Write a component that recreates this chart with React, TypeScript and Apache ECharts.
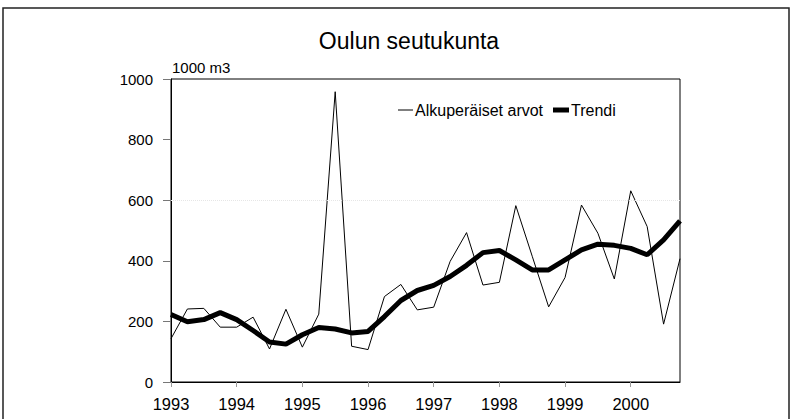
import React, { useEffect, useRef } from "react";
import * as echarts from "echarts";

const years = [1993, 1994, 1995, 1996, 1997, 1998, 1999, 2000];
const quarterNames = ["I", "II", "III", "IV"];
const periods: string[] = years.flatMap((y) => quarterNames.map((q) => `${y} ${q}`));

const originalValues = [
  143, 241, 243, 181, 181, 214, 109, 240,
  115, 224, 958, 118, 107, 282, 322, 238,
  247, 398, 493, 320, 329, 582, 415, 248,
  345, 584, 491, 340, 631, 513, 191, 407,
];

const trendValues = [
  223, 199, 206, 229, 206, 170, 132, 125,
  156, 180, 175, 162, 167, 216, 269, 302,
  319, 348, 385, 427, 434, 403, 370, 370,
  403, 436, 455, 451, 441, 420, 469, 532,
];

const seriesNames = ["Alkuperäiset arvot", "Trendi"];
const titleText = "Oulun seutukunta";
const unitText = "1000 m3";

export default function App() {
  const ref = useRef<HTMLDivElement>(null);
  useEffect(() => {
    document.body.style.margin = "0";
    if (!ref.current) return;
    const chart = echarts.init(ref.current, null, { renderer: "svg" });
    const font = "'Liberation Sans', Arial, sans-serif";
    chart.setOption({
      animation: false,
      backgroundColor: "#ffffff",
      textStyle: { fontFamily: font, color: "#000" },
      title: {
        text: titleText,
        left: 404,
        top: 24,
        textAlign: "center",
        textStyle: { fontFamily: font, fontSize: 23, fontWeight: "normal", color: "#000" },
      },
      graphic: [
        {
          type: "rect",
          shape: { x: 3, y: 8, width: 786, height: 430 },
          style: { fill: "none", stroke: "#222", lineWidth: 1.5 },
          silent: true,
        },
        {
          type: "text",
          x: 172,
          y: 67.5,
          style: { text: unitText, font: `15px ${font}`, fill: "#000", verticalAlign: "middle" },
        },
        {
          type: "line",
          shape: { x1: 398, y1: 110, x2: 413, y2: 110 },
          style: { stroke: "#000", lineWidth: 1 },
        },
        {
          type: "text",
          x: 415,
          y: 110,
          style: { text: seriesNames[0], font: `16px ${font}`, fill: "#000", verticalAlign: "middle" },
        },
        {
          type: "line",
          shape: { x1: 553, y1: 110, x2: 569, y2: 110 },
          style: { stroke: "#000", lineWidth: 5 },
        },
        {
          type: "text",
          x: 571,
          y: 110,
          style: { text: seriesNames[1], font: `16px ${font}`, fill: "#000", verticalAlign: "middle" },
        },
      ],
      grid: { left: 171, top: 79, right: 113, bottom: 37, show: true, borderColor: "#000", borderWidth: 1 },
      xAxis: {
        type: "category",
        data: periods,
        boundaryGap: false,
        axisLine: { lineStyle: { color: "#000", width: 1 } },
        axisTick: {
          interval: (i: number) => i % 4 === 0,
          length: 5,
          lineStyle: { color: "#999" },
        },
        axisLabel: {
          interval: (i: number) => i % 4 === 0,
          formatter: (v: string) => v.split(" ")[0],
          fontSize: 16.5,
          color: "#000",
          margin: 13,
          fontFamily: font,
        },
        splitLine: { show: false },
      },
      yAxis: {
        type: "value",
        min: 0,
        max: 1000,
        interval: 200,
        axisLine: { show: true, lineStyle: { color: "#000", width: 1 } },
        axisTick: { show: true, length: 8, lineStyle: { color: "#777" } },
        axisLabel: {
          fontSize: 15,
          color: "#000",
          margin: 18,
          fontFamily: font,
          formatter: (v: number) => String(v),
        },
        splitLine: { show: false },
      },
      series: [
        {
          name: seriesNames[0],
          type: "line",
          data: originalValues,
          symbol: "none",
          lineStyle: { color: "#000", width: 1 },
          itemStyle: { color: "#000" },
          markLine: {
            silent: true,
            symbol: "none",
            label: { show: false },
            lineStyle: { color: "#e6e6e6", type: "dotted", width: 1 },
            data: [{ yAxis: 600 }],
          },
        },
        {
          name: seriesNames[1],
          type: "line",
          data: trendValues,
          symbol: "none",
          lineStyle: { color: "#000", width: 5 },
          itemStyle: { color: "#000" },
        },
      ],
    });
    return () => chart.dispose();
  }, []);
  return <div ref={ref} style={{ width: 793, height: 419 }} />;
}
